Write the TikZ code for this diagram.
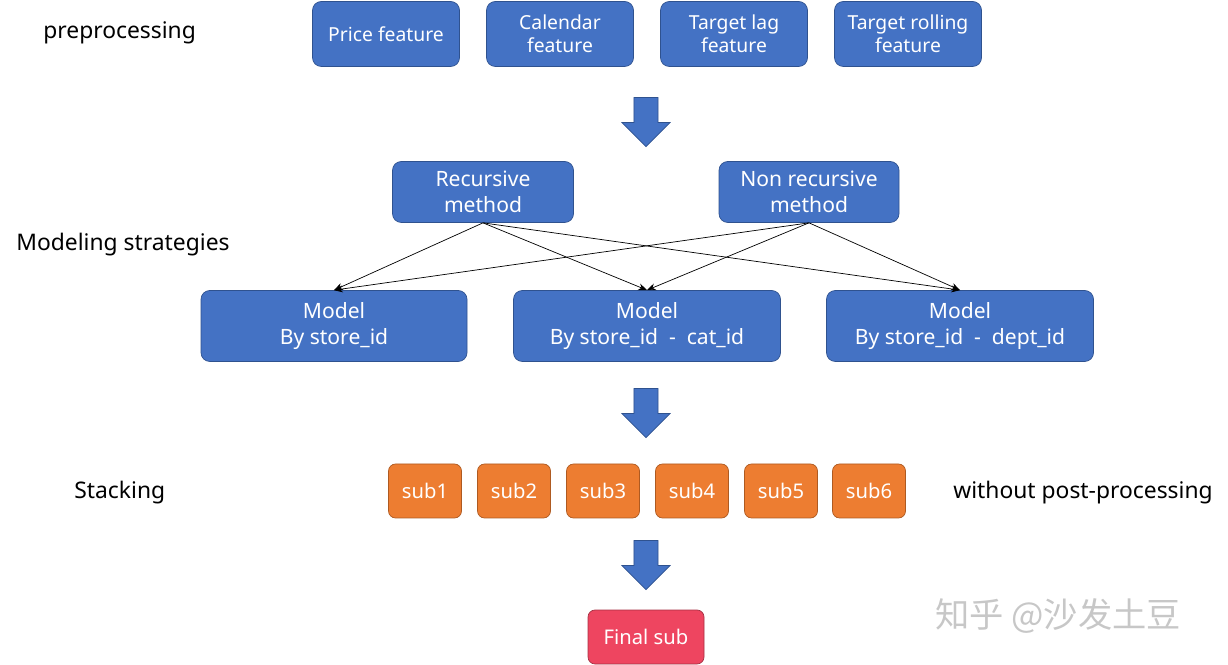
\documentclass[tikz,border=0pt]{standalone}
\usepackage{fontspec}
\setmainfont{Noto Sans}
\newfontfamily\cjk{Noto Sans CJK SC}
\usetikzlibrary{arrows.meta,shapes.arrows}
\definecolor{boxblue}{HTML}{4472C4}
\definecolor{edgeblue}{HTML}{2F528F}
\definecolor{boxorange}{HTML}{ED7D31}
\definecolor{edgeorange}{HTML}{AE5A21}
\definecolor{boxred}{HTML}{EE4560}
\begin{document}
\begin{tikzpicture}[x=0.02cm,y=-0.02cm,
    blk/.style={draw=edgeblue,fill=boxblue,rounded corners=5pt,text=white,
      align=center,font=\fontsize{11}{13}\selectfont,inner sep=0pt},
    sub/.style={draw=edgeorange,fill=boxorange,rounded corners=4pt,text=white,
      minimum width=73*0.02cm,minimum height=54*0.02cm,inner sep=0pt,
      font=\fontsize{11.5}{13}\selectfont},
    lbl/.style={font=\fontsize{13}{15}\selectfont,anchor=west,inner sep=0pt},
    down/.style={single arrow,shape border rotate=270,fill=boxblue,draw=edgeblue,
      minimum width=48*0.02cm,single arrow head extend=9*0.02cm,
      minimum height=49*0.02cm,inner sep=5pt},
    link/.style={-{Stealth[length=5pt,width=4pt]},thin}]
  \useasboundingbox (0,0) rectangle (1228,665);
  % labels on the left and right
  \node[lbl] (pre) at (43,33) {preprocessing};
  \node[lbl] (mod) at (16,245) {Modeling\ strategies};
  \node[lbl] (stk) at (74,493) {Stacking};
  \node[lbl] (wpp) at (953,493) {without\ post-processing};
  % features
  \node[blk,minimum width=147*0.02cm,minimum height=65*0.02cm] (price) at (386,34) {Price feature};
  \node[blk,minimum width=147*0.02cm,minimum height=65*0.02cm] (cal) at (560,34) {Calendar\\feature};
  \node[blk,minimum width=147*0.02cm,minimum height=65*0.02cm] (lag) at (734,34) {Target lag\\feature};
  \node[blk,minimum width=147*0.02cm,minimum height=65*0.02cm] (roll) at (908,34) {Target rolling\\feature};
  \node[down] (a1) at (646,116) {};
  % strategies
  \node[blk,minimum width=181*0.02cm,minimum height=61*0.02cm,font=\fontsize{12}{14.5}\selectfont] (rec) at (483,192) {Recursive\\method};
  \node[blk,minimum width=180*0.02cm,minimum height=61*0.02cm,font=\fontsize{12}{14.5}\selectfont] (nrec) at (809,192) {Non recursive\\method};
  \node[blk,minimum width=266*0.02cm,minimum height=71*0.02cm,font=\fontsize{12}{14.5}\selectfont] (m1) at (334,326) {Model\\By store\_id};
  \node[blk,minimum width=267*0.02cm,minimum height=71*0.02cm,font=\fontsize{12}{14.5}\selectfont] (m2) at (647,326) {Model\\By store\_id\ \ -\ \ cat\_id};
  \node[blk,minimum width=267*0.02cm,minimum height=71*0.02cm,font=\fontsize{12}{14.5}\selectfont] (m3) at (960,326) {Model\\By store\_id\ \ -\ \ dept\_id};
  \foreach \s in {rec,nrec}
    \foreach \m in {m1,m2,m3}
      \draw[link] (\s.south) -- (\m.north);
  \node[down] (a2) at (646,407) {};
  % stacking
  \foreach \i/\x in {1/425,2/514,3/603,4/692,5/781,6/869}
    \node[sub] (s\i) at (\x,491) {sub\i};
  \node[down] (a3) at (646,559) {};
  \node[sub,draw=boxred!70!black,fill=boxred,minimum width=116*0.02cm] (fin) at (646,637) {Final\ sub};
  \node[font=\cjk\fontsize{19.5}{21}\selectfont,text=black!22,anchor=west,inner sep=0pt] (wm) at (935,616) {知乎 @沙发土豆};
\end{tikzpicture}
\end{document}
